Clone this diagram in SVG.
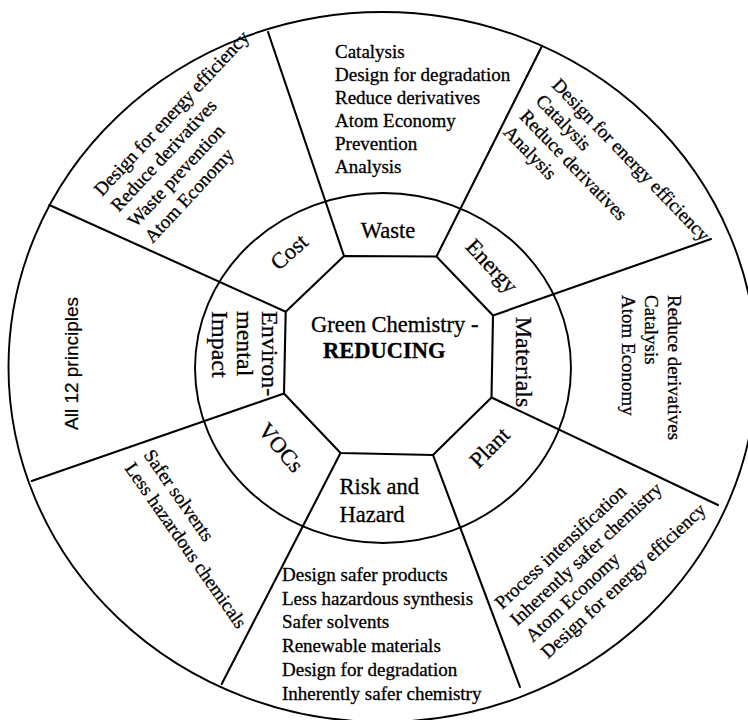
<svg xmlns="http://www.w3.org/2000/svg" width="748" height="720" viewBox="0 0 748 720">
<style>
.ring{fill:none;stroke:#000;stroke-width:1.9}
.ln{stroke:#000;stroke-width:2.1;fill:none;stroke-linecap:round}
.t{font-family:"Liberation Serif","Times New Roman",serif;font-size:19px;fill:#000;stroke:#000;stroke-width:0.3}
.s{font-family:"Liberation Sans",Arial,sans-serif;font-size:19px;fill:#000;stroke:#000;stroke-width:0.2}
.in{font-family:"Liberation Serif","Times New Roman",serif;font-size:22.5px;fill:#000;stroke:#000;stroke-width:0.3}
.iv{font-family:"Liberation Serif","Times New Roman",serif;font-size:24px;fill:#000;stroke:#000;stroke-width:0.3}
.c{text-anchor:middle;dominant-baseline:central}
</style>
<rect width="748" height="720" fill="#fff"/>
<g id="rings">
<ellipse class="ring" cx="382.5" cy="367" rx="374" ry="355"/>
<ellipse class="ring" cx="383" cy="368" rx="188" ry="175"/>
</g>
<g id="connectors">
<line class="ln" x1="344" y1="256" x2="268" y2="32"/>
<line class="ln" x1="436.5" y1="256.5" x2="542" y2="46"/>
<line class="ln" x1="493" y1="315.5" x2="711" y2="239"/>
<line class="ln" x1="491.5" y1="397.5" x2="718" y2="505"/>
<line class="ln" x1="433" y1="455" x2="520" y2="687"/>
<line class="ln" x1="340.5" y1="453" x2="221.7" y2="684"/>
<line class="ln" x1="284" y1="393.5" x2="31.7" y2="481"/>
<line class="ln" x1="285.7" y1="311.7" x2="49.3" y2="205"/>
</g>
<g id="center">
<polygon class="ln" points="344,256 436.5,256.5 493,315.5 491.5,397.5 433,455 340.5,453 284,393.5 285.7,311.7"/>
<text class="in" x="311" y="331.5">Green Chemistry -</text>
<text class="in" x="323" y="358" font-weight="bold">REDUCING</text>
</g>
<g id="waste">
<text class="in" x="388" y="238" text-anchor="middle">Waste</text>
</g>
<g id="cost">
<text class="in c" transform="translate(289,252) rotate(-42)">Cost</text>
</g>
<g id="energy">
<text class="in c" transform="translate(492,266) rotate(47)">Energy</text>
</g>
<g id="materials">
<text class="iv c" transform="translate(524,362) rotate(90)">Materials</text>
</g>
<g id="plant">
<text class="in c" transform="translate(489.5,447.5) rotate(-45)">Plant</text>
</g>
<g id="risk">
<text class="in" x="339.5" y="493.5">Risk and</text>
<text class="in" x="339.5" y="521.5">Hazard</text>
</g>
<g id="vocs">
<text class="in c" transform="translate(281,447.5) rotate(50)">VOCs</text>
</g>
<g id="environ">
<g transform="translate(262,311) rotate(90)">
<text class="iv" x="0" y="0">Environ-</text>
<text class="iv" x="0" y="25">mental</text>
<text class="iv" x="0" y="50">Impact</text>
</g>
</g>
<g id="waste-list">
<text class="t" x="335" y="58">Catalysis</text>
<text class="t" x="335" y="81">Design for degradation</text>
<text class="t" x="335" y="104">Reduce derivatives</text>
<text class="t" x="335" y="127">Atom Economy</text>
<text class="t" x="335" y="150">Prevention</text>
<text class="t" x="335" y="173">Analysis</text>
</g>
<g id="energy-list" transform="translate(551,86) rotate(46)">
<text class="t" x="0" y="0">Design for energy efficiency</text>
<text class="t" x="0" y="22.5">Catalysis</text>
<text class="t" x="0" y="45">Reduce derivatives</text>
<text class="t" x="0" y="67.5">Analysis</text>
</g>
<g id="materials-list" transform="translate(668,295) rotate(90)">
<text class="t" x="0" y="0">Reduce derivatives</text>
<text class="t" x="0" y="23">Catalysis</text>
<text class="t" x="0" y="46">Atom Economy</text>
</g>
<g id="plant-list" transform="translate(502,610) rotate(-43)">
<text class="t" x="0" y="0">Process intensification</text>
<text class="t" x="0" y="22.5">Inherently safer chemistry</text>
<text class="t" x="0" y="45">Atom Economy</text>
<text class="t" x="0" y="67.5">Design for energy efficiency</text>
</g>
<g id="risk-list">
<text class="t" x="282" y="581">Design safer products</text>
<text class="t" x="282" y="604.7">Less hazardous synthesis</text>
<text class="t" x="282" y="628.4">Safer solvents</text>
<text class="t" x="282" y="652.1">Renewable materials</text>
<text class="t" x="282" y="675.8">Design for degradation</text>
<text class="t" x="282" y="699.5">Inherently safer chemistry</text>
</g>
<g id="vocs-list" transform="translate(143,455) rotate(55)">
<text class="t" x="0" y="0">Safer solvents</text>
<text class="t" x="0" y="23">Less hazardous chemicals</text>
</g>
<g id="environ-list">
<text class="s" transform="translate(78,430) rotate(-90)">All 12 principles</text>
</g>
<g id="cost-list" transform="translate(102,197) rotate(-47)">
<text class="t" x="0" y="0">Design for energy efficiency</text>
<text class="t" x="0" y="23">Reduce derivatives</text>
<text class="t" x="0" y="46">Waste prevention</text>
<text class="t" x="0" y="69">Atom Economy</text>
</g>
</svg>
